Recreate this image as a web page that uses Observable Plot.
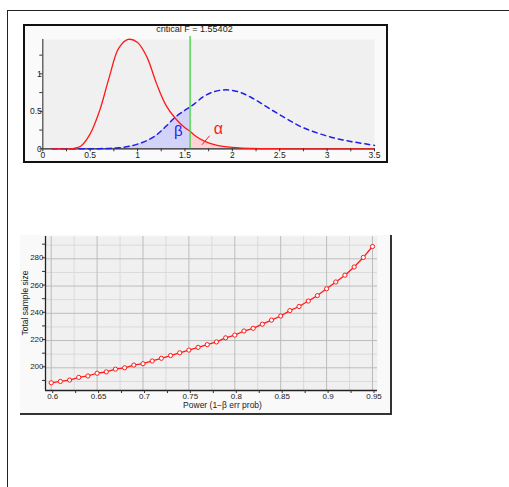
<!DOCTYPE html>
<html><head><meta charset="utf-8">
<script src="https://cdn.jsdelivr.net/npm/d3@7"></script>
<script src="https://cdn.jsdelivr.net/npm/@observablehq/plot@0.6"></script>
<style>
body{margin:0;background:#fff;width:509px;height:487px;overflow:hidden;position:relative;font-family:"Liberation Sans",Arial,sans-serif;}
#frame{position:absolute;left:7px;top:10px;width:520px;height:500px;border-left:1.5px solid #222;border-top:1.5px solid #222;}
#p1bg{position:absolute;left:23px;top:24px;width:365px;height:139px;background:#fafafa;}
#p1{position:absolute;left:23px;top:24px;width:365px;height:139px;}
#p1border{position:absolute;left:23px;top:24px;width:365px;height:139px;border:2px solid #111;box-sizing:border-box;}
#title1{position:absolute;left:194.5px;top:24px;transform:translateX(-50%);font-size:9px;white-space:nowrap;color:#222;}
#p2bg{position:absolute;left:20px;top:235px;width:372px;height:180px;background:#f9f9f9;border-right:2px solid #333;border-bottom:2px solid #333;box-sizing:border-box;}
#p2{position:absolute;left:20px;top:235px;width:370px;height:178px;overflow:hidden;}
svg{overflow:visible}
</style>
</head><body>
<div id="frame"></div>
<div id="p1bg"></div>
<div id="title1"></div>
<div id="p1"></div>
<div id="p1border"></div>
<div id="p2bg"></div>
<div id="p2"></div>
<script>
// ---------- top chart: distributions ----------
const titleText = "critical F = 1.55402";
const critF = 1.55402;
const critLineTop = 1.5;
const densX = [0,0.1,0.2,0.3,0.4,0.5,0.6,0.7,0.8,0.9,1.0,1.1,1.2,1.3,1.4,1.5,1.55402,1.6,1.7,1.8,1.9,2.0,2.1,2.2,2.3,2.4,2.5,2.6,2.7,2.8,2.9,3.0,3.1,3.2,3.3,3.4,3.5];
const densH0 = [0,0,0,0.001,0.035,0.2,0.51,0.95,1.34,1.46,1.42,1.22,0.87,0.58,0.405,0.28,0.235,0.18,0.105,0.058,0.033,0.018,0.01,0.006,0.003,0.002,0.001,0,0,0,0,0,0,0,0,0,0];
const densH1 = [0,0,0,0,0,0,0.002,0.005,0.013,0.03,0.062,0.11,0.185,0.3,0.424,0.515,0.558,0.6,0.7,0.76,0.785,0.78,0.745,0.685,0.61,0.53,0.455,0.38,0.31,0.255,0.21,0.17,0.137,0.11,0.087,0.066,0.045];
const topXTicks = [0,0.25,0.5,0.75,1,1.25,1.5,1.75,2,2.25,2.5,2.75,3,3.25,3.5];
const topXLabels = [0,0.5,1,1.5,2,2.5,3,3.5];
const topYTicks = [0,0.25,0.5,0.75,1,1.25];
const topYLabels = [0,0.5,1];
const greekLabels = [{t:"β", x:1.43, y:0.24, c:"#1a1ae6", s:15},{t:"α", x:1.853, y:0.27, c:"#ff1a1a", s:16}];
const alphaLeader = [{x1:1.76, y1:0.174, x2:1.68, y2:0.054}];

const h0 = densX.map((x,i)=>({x, y:densH0[i]}));
const h1 = densX.map((x,i)=>({x, y:densH1[i]}));
const curve = "catmull-rom";
const font = '"Liberation Sans", Arial, sans-serif';

document.getElementById("title1").textContent = titleText;

const p1 = Plot.plot({
  width:365, height:139,
  marginLeft:19.3, marginRight:14, marginTop:15, marginBottom:14.7,
  x:{domain:[0,3.5], axis:null},
  y:{domain:[0,1.459], axis:null},
  style:{background:"transparent", fontFamily:font, fontSize:"8.5px", color:"#222", overflow:"visible"},
  marks:[
    Plot.frame({fill:"#f0f0f0", stroke:null}),
    Plot.areaY(h1.filter(d=>d.x<=critF), {x:"x", y:"y", fill:"#d3d3fa", curve}),
    Plot.areaY(h0.filter(d=>d.x>=critF), {x:"x", y:"y", fill:"#ffd3d3", curve}),
    Plot.ruleY([0], {stroke:"#222", strokeWidth:1.2}),
    Plot.ruleX([0], {y1:0, y2:1.459, stroke:"#444", strokeWidth:1.2}),
    Plot.lineY(h1.filter(d=>d.x>=0.1), {x:"x", y:"y", stroke:"#1f1fe6", strokeWidth:1.5, strokeDasharray:"5,4", curve}),
    Plot.lineY(h0.filter(d=>d.x>=0.1), {x:"x", y:"y", stroke:"#ff1a1a", strokeWidth:1.3, curve}),
    Plot.ruleX([critF], {y1:0, y2:critLineTop, stroke:"#3cd23c", strokeWidth:1.3}),
    Plot.link(alphaLeader, {x1:"x1", y1:"y1", x2:"x2", y2:"y2", stroke:"#ff1a1a", strokeWidth:1}),
    Plot.text(greekLabels, {x:"x", y:"y", text:"t", fill:"c", fontSize:"s"}),
    Plot.axisX(topXTicks, {tickSize:3, tickPadding:0, stroke:"#333", fill:"#222", label:null,
      tickFormat:d=>topXLabels.includes(d)?String(d):""}),
    Plot.axisY(topYTicks, {tickSize:3, tickPadding:-2, stroke:"#333", fill:"#222", label:null,
      tickFormat:d=>topYLabels.includes(d)?String(d):""})
  ]
});
document.getElementById("p1").appendChild(p1);

// ---------- bottom chart: sample size vs power ----------
const power = [0.60,0.61,0.62,0.63,0.64,0.65,0.66,0.67,0.68,0.69,0.70,0.71,0.72,0.73,0.74,0.75,0.76,0.77,0.78,0.79,0.80,0.81,0.82,0.83,0.84,0.85,0.86,0.87,0.88,0.89,0.90,0.91,0.92,0.93,0.94,0.95];
const sampleSize = [189,190,191,193,194,196,197,199,200,202,203,205,207,209,211,213,215,217,219,222,224,227,229,232,235,238,242,245,249,253,258,263,268,274,281,289];
const xLabel = "Power (1−β err prob)";
const yLabel = "Total sample size";
const xDomain = [0.59379, 0.95545];
const yDomain = [183.34, 296.37];
const xMajor = [0.6,0.65,0.7,0.75,0.8,0.85,0.9,0.95];
const xMinor = [0.625,0.675,0.725,0.775,0.825,0.875,0.925];
const yMajor = [200,220,240,260,280];
const yMinor = [190,210,230,250,270,290];

const pts = power.map((p,i)=>({p, n:sampleSize[i]}));
const p2 = Plot.plot({
  width:370, height:178,
  marginLeft:25, marginRight:13, marginTop:1, marginBottom:23,
  x:{domain:xDomain, axis:null},
  y:{domain:yDomain, axis:null},
  style:{background:"transparent", fontFamily:font, fontSize:"8px", color:"#222", overflow:"visible"},
  marks:[
    Plot.frame({fill:"#f0f0f0", stroke:null}),
    Plot.ruleX(xMinor, {stroke:"#dadada", strokeWidth:1}),
    Plot.ruleY(yMinor, {stroke:"#dadada", strokeWidth:1}),
    Plot.ruleX(xMajor, {stroke:"#bcbcbc", strokeWidth:1}),
    Plot.ruleY(yMajor, {stroke:"#bcbcbc", strokeWidth:1}),
    Plot.ruleX([xDomain[0]], {stroke:"#222", strokeWidth:1.3}),
    Plot.ruleY([yDomain[0]], {stroke:"#222", strokeWidth:1.3}),
    Plot.line(pts, {x:"p", y:"n", stroke:"#ff1a1a", strokeWidth:1.3}),
    Plot.dot(pts, {x:"p", y:"n", r:2.1, stroke:"#ff1a1a", fill:"#fff", strokeWidth:1}),
    Plot.axisX([...xMajor, ...xMinor], {tickSize:3, tickPadding:0, dx:1.5, stroke:"#333", fill:"#222", label:null,
      tickFormat:d=>xMajor.includes(d)?String(d):""}),
    Plot.axisY([...yMajor, ...yMinor], {tickSize:3, tickPadding:-1, dy:-1, stroke:"#333", fill:"#222", label:null,
      tickFormat:d=>yMajor.includes(d)?String(d):""}),
    Plot.text([xLabel], {frameAnchor:"bottom", lineAnchor:"middle", textAnchor:"middle", dx:11, dy:15, fontSize:8.5, fill:"#222"}),
    Plot.text([yLabel], {frameAnchor:"left", lineAnchor:"middle", textAnchor:"middle", rotate:-90, dx:-20, dy:-10.5, fontSize:8.5, fill:"#222"})
  ]
});
document.getElementById("p2").appendChild(p2);
</script>
</body></html>
